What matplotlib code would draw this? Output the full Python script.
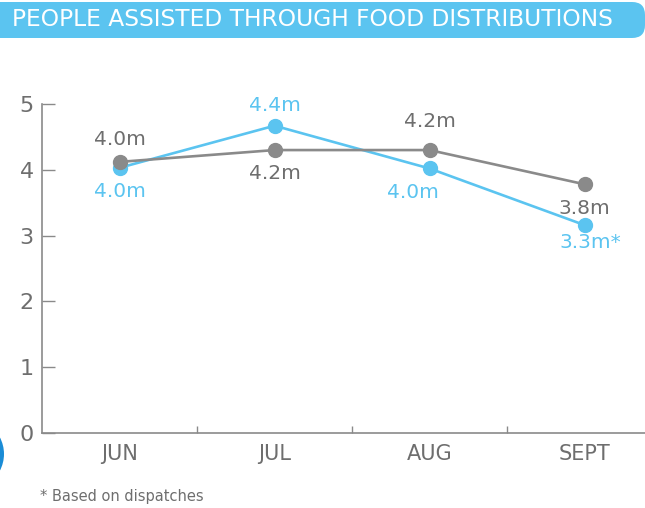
import matplotlib.pyplot as plt
from matplotlib.patches import FancyBboxPatch, Circle

# data
months = ['JUN', 'JUL', 'AUG', 'SEPT']
gray_vals = [4.12, 4.30, 4.30, 3.78]
blue_vals = [4.03, 4.67, 4.02, 3.16]
gray_labels = ['4.0m', '4.2m', '4.2m', '3.8m']
blue_labels = ['4.0m', '4.4m', '4.0m', '3.3m*']

GRAY = '#8a8a8a'
GRAY_TXT = '#6e6e6e'
BLUE = '#5bc4f0'

plt.rcParams['font.family'] = 'DejaVu Sans'

fig = plt.figure(figsize=(6.45, 5.08), dpi=100)
W, H = 645, 508

# title banner (y measured from top of picture)
banner = FancyBboxPatch((-30 / W, 1 - 38 / H), (W + 30) / W, 36 / H,
                        boxstyle='round,pad=0,rounding_size=0.02',
                        transform=fig.transFigure, facecolor='#5bc4f0',
                        edgecolor='none', mutation_aspect=W / H)
fig.patches.append(banner)
fig.text(12 / W, 1 - 20 / H, 'PEOPLE ASSISTED THROUGH FOOD DISTRIBUTIONS',
         color='white', fontsize=16.8, va='center', ha='left')

# decorative blue disc at lower left edge
fig.patches.append(Circle((-53 / W, 1 - 454 / H), 57 / W, transform=fig.transFigure,
                          facecolor='#1a8cd6', edgecolor='none'))

ax = fig.add_axes([42 / W, 1 - 433 / H, (W - 42) / W, (433 - 104) / H])
x = range(len(months))
ax.plot(x, blue_vals, color=BLUE, lw=1.9, marker='o', ms=10, zorder=3)
ax.plot(x, gray_vals, color=GRAY, lw=1.9, marker='o', ms=10, zorder=4)

ax.set_xlim(-0.5, 3.39)
ax.set_ylim(0, 5)

# label offsets in pixels (dx, dy)
gray_off = [(0, 22), (0, -23), (0, 29), (0, -24)]
blue_off = [(0, -24), (0, 20), (-17, -24), (6, -17)]
for i in x:
    ax.annotate(gray_labels[i], (i, gray_vals[i]), xytext=gray_off[i],
                textcoords='offset pixels', ha='center', va='center',
                color=GRAY_TXT, fontsize=14.5)
    ax.annotate(blue_labels[i], (i, blue_vals[i]), xytext=blue_off[i],
                textcoords='offset pixels', ha='center', va='center',
                color=BLUE, fontsize=14.5)

for s in ['top', 'right']:
    ax.spines[s].set_visible(False)
for s in ['left', 'bottom']:
    ax.spines[s].set_color(GRAY)
    ax.spines[s].set_linewidth(1.2)

ax.set_yticks(range(6))
ax.tick_params(axis='y', direction='in', length=9, width=1, color=GRAY,
               labelsize=16, labelcolor=GRAY_TXT, pad=6)
ax.set_xticks(list(x))
ax.set_xticklabels(months)
ax.tick_params(axis='x', length=0, labelsize=15, labelcolor=GRAY_TXT, pad=8)
ax.set_xticks([0.5, 1.5, 2.5], minor=True)
ax.tick_params(axis='x', which='minor', direction='in', length=5, width=1, color=GRAY)

fig.text(40 / W, 1 - 496 / H, '* Based on dispatches', color=GRAY_TXT,
         fontsize=10.5, va='center', ha='left')

fig.savefig('out.png', dpi=100)
